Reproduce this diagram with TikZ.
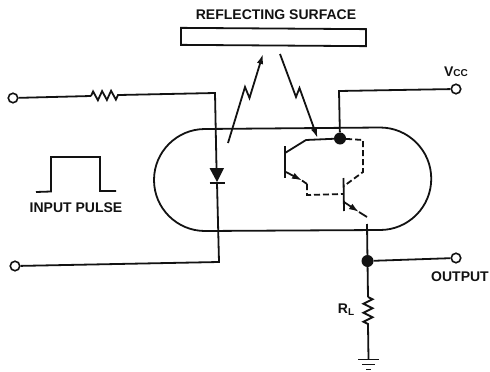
\documentclass[tikz,border=0pt]{standalone}
\usepackage{fontspec}
\setmainfont{Liberation Sans}
\definecolor{inkblack}{RGB}{18, 18, 18}
\usepackage{tikz}
\usetikzlibrary{arrows.meta, decorations.pathmorphing}
\tikzset{
  wire/.style={draw=inkblack, line width=1.8pt, line join=miter},
  dashwire/.style={wire, dash pattern=on 6pt off 3pt},
  zigzagwire/.style={wire, decorate, decoration={zigzag, segment length=9pt, amplitude=4.5pt}},
  terminal/.style={circle, draw=inkblack, line width=1.6pt, fill=white, minimum size=9.5pt, inner sep=0pt},
  junction/.style={circle, fill=inkblack, minimum size=12pt, inner sep=0pt},
  caption/.style={font=\bfseries\fontsize{14}{16}\selectfont, text=inkblack, inner sep=0pt},
  tip/.style={-{Latex[length=10pt, width=6.5pt]}}
}
\begin{document}
\begin{tikzpicture}[x=1pt, y=-1pt]
  \useasboundingbox (0, 0) rectangle (490, 372);

  % Reflecting surface
  \node[caption] (surfacetext) at (276, 15) {REFLECTING SURFACE};
  \node[draw=inkblack, line width=1.8pt, minimum width=185pt, minimum height=17pt, inner sep=0pt, rotate=-0.4] (surface) at (273.5, 37) {};

  % Package
  \draw[wire] (205, 129) -- (380, 127.5) arc[start angle=-90, end angle=90, radius=51.25] -- (205, 231) arc[start angle=90, end angle=270, radius=51] -- cycle;

  % Input side
  \node[terminal] (intop) at (13, 98) {};
  \node[terminal] (inbot) at (15, 266) {};
  \coordinate (rinA) at (91, 96);
  \coordinate (rinB) at (119, 95);
  \coordinate (cornertop) at (215, 93);
  \coordinate (cornerbot) at (219, 262);
  \coordinate (diodetop) at (216.5, 168);
  \coordinate (diodebot) at (217, 183);
  \draw[wire] (intop) -- (rinA);
  \draw[zigzagwire] (rinA) -- (rinB);
  \draw[wire] (rinB) -- (cornertop) -- (diodetop);
  \draw[wire] (diodebot) -- (cornerbot) -- (inbot);

  % Diode
  \fill[inkblack] (209.5, 168) -- (224, 168) -- (217, 182) -- cycle;
  \draw[wire] (209.5, 183) -- (224.5, 183);

  % Input pulse
  \draw[wire] (36, 192) -- (51, 191.5) -- (51, 157) -- (100, 157) -- (100, 191) -- (116, 191);
  \node[caption] (pulsetext) at (76, 208) {INPUT PULSE};

  % Light paths
  \coordinate (emitstart) at (228, 143);
  \coordinate (emitend) at (263, 54);
  \coordinate (recvstart) at (280, 54);
  \coordinate (recvend) at (317.5, 138);
  \draw[wire, tip] (emitstart) -- (245, 87) -- (249.5, 98) -- (emitend);
  \draw[wire, tip] (recvstart) -- (296, 97) -- (299.5, 88) -- (recvend);

  % Supply
  \node[junction] (vccdot) at (340, 138.5) {};
  \node[terminal] (vccterm) at (456, 89) {};
  \coordinate (vcccorner) at (339, 91);
  \draw[wire] (vccdot) -- (vcccorner) -- (vccterm);
  \node[caption] (vcctext) at (456, 72) {V\fontsize{10}{11}\selectfont CC};

  % First transistor
  \coordinate (baseAtop) at (285, 146);
  \coordinate (baseAbot) at (285, 178);
  \coordinate (collA) at (285, 153);
  \coordinate (kneeA) at (306, 140);
  \coordinate (emitA) at (286, 172);
  \coordinate (arrowA) at (302, 180.5);
  \coordinate (emitAend) at (307, 184);
  \draw[wire] (baseAtop) -- (baseAbot);
  \draw[wire] (collA) -- (kneeA) -- (vccdot);
  \draw[wire, tip] (emitA) -- (arrowA);
  \draw[wire] (arrowA) -- (emitAend);
  \draw[dashwire] (emitAend) -- (307, 195) -- (343, 194);

  % Second transistor
  \coordinate (baseBtop) at (343.5, 178);
  \coordinate (baseBbot) at (344, 211);
  \coordinate (collB) at (344, 186);
  \coordinate (kneeB) at (363, 172);
  \coordinate (emitB) at (344, 202);
  \coordinate (arrowB) at (359, 212);
  \coordinate (emitBend) at (367, 217);
  \draw[wire] (baseBtop) -- (baseBbot);
  \draw[dashwire] (vccdot) -- (363, 140) -- (kneeB) -- (collB);
  \draw[wire, tip] (emitB) -- (arrowB);
  \draw[wire] (arrowB) -- (emitBend);

  % Output and load
  \coordinate (outstart) at (367, 224);
  \node[junction] (outdot) at (367.5, 261) {};
  \node[terminal] (outterm) at (456, 258) {};
  \coordinate (loadA) at (368, 297);
  \coordinate (loadB) at (368, 325);
  \coordinate (gndtop) at (368.5, 359);
  \draw[wire] (outstart) -- (outdot) -- (outterm);
  \draw[wire] (outdot) -- (loadA);
  \draw[zigzagwire] (loadA) -- (loadB);
  \draw[wire] (loadB) -- (gndtop);
  \node[caption] (outtext) at (460, 277) {OUTPUT};
  \node[caption] (loadtext) at (346, 310) {R\raisebox{-2pt}{\fontsize{10}{11}\selectfont L}};

  % Ground
  \draw[wire] (358, 359.5) -- (379, 359.5);
  \draw[wire] (362, 364.5) -- (375, 364.5);
  \draw[wire] (366, 369.5) -- (371, 369.5);
\end{tikzpicture}
\end{document}
